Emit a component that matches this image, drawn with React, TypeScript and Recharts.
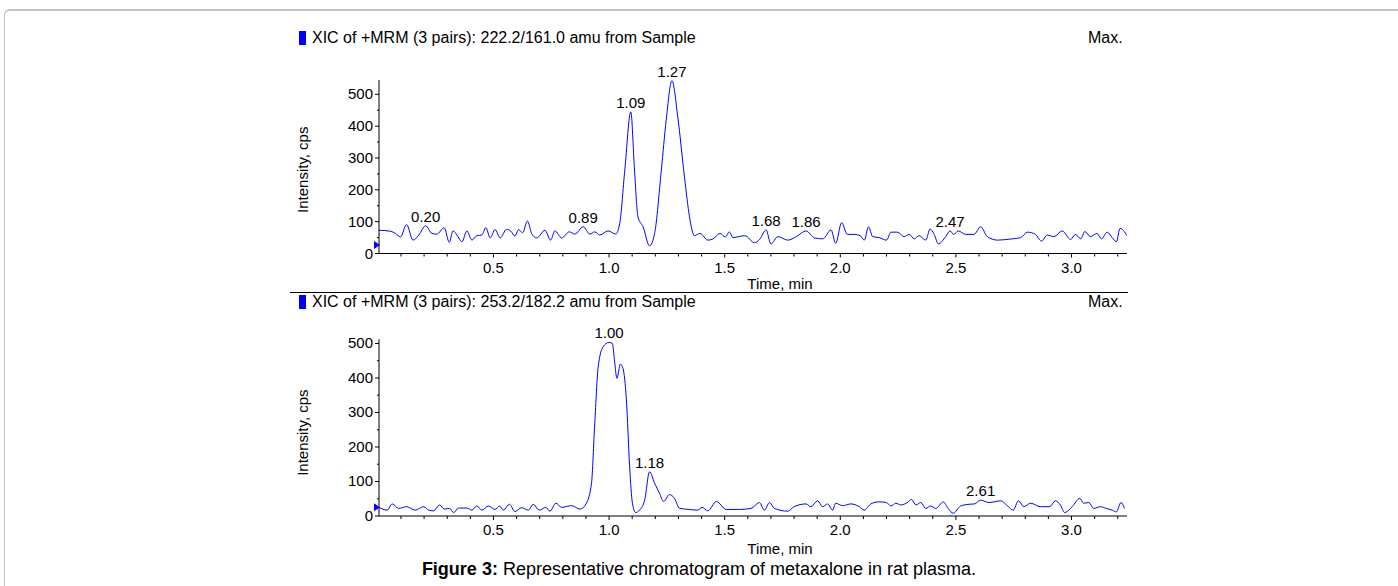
import React from "react";
import { LineChart, Line, XAxis, YAxis, ReferenceDot } from "recharts";

// XIC 222.2/161.0 (top trace)
const topTime = [
  0.005, 0.055, 0.076, 0.098, 0.124, 0.152, 0.177, 0.207, 0.234, 0.255, 0.287, 0.309, 0.325, 0.342, 0.364, 0.385,
  0.407, 0.428, 0.45, 0.467, 0.486, 0.507, 0.529, 0.557, 0.575, 0.593, 0.608, 0.626, 0.647, 0.665, 0.687, 0.723,
  0.747, 0.766, 0.795, 0.828, 0.852, 0.888, 0.917, 0.938, 0.96, 0.996, 1.029, 1.046, 1.068, 1.094, 1.11, 1.125,
  1.147, 1.175, 1.197, 1.226, 1.247, 1.272, 1.297, 1.326, 1.348, 1.369, 1.394, 1.427, 1.448, 1.48, 1.503, 1.52,
  1.536, 1.587, 1.629, 1.652, 1.679, 1.7, 1.73, 1.773, 1.81, 1.852, 1.888, 1.924, 1.96, 1.98, 2.006, 2.03,
  2.06, 2.086, 2.104, 2.122, 2.14, 2.168, 2.2, 2.219, 2.247, 2.276, 2.298, 2.32, 2.34, 2.37, 2.388, 2.406,
  2.424, 2.456, 2.475, 2.49, 2.51, 2.542, 2.578, 2.607, 2.636, 2.68, 2.73, 2.78, 2.81, 2.844, 2.87, 2.895,
  2.924, 2.96, 2.996, 3.017, 3.04, 3.058, 3.082, 3.11, 3.13, 3.154, 3.176, 3.194, 3.21, 3.24,
];
const topIntensity = [
  73, 70, 63, 52, 91, 42, 58, 87, 63, 61, 81, 35, 71, 58, 37, 71,
  42, 56, 58, 81, 49, 75, 49, 76, 70, 55, 75, 65, 102, 63, 49, 73,
  42, 71, 49, 68, 61, 84, 61, 68, 58, 71, 61, 94, 262, 445, 262, 115,
  84, 24, 63, 262, 419, 543, 430, 241, 115, 56, 63, 42, 45, 63, 52, 68,
  50, 56, 34, 45, 74, 30, 53, 42, 53, 71, 49, 46, 74, 32, 97, 60,
  60, 56, 42, 84, 53, 50, 42, 67, 67, 53, 60, 46, 56, 42, 77, 60,
  30, 53, 71, 60, 71, 60, 60, 84, 53, 42, 45, 50, 67, 60, 39, 58,
  53, 71, 44, 60, 46, 69, 53, 63, 46, 67, 50, 37, 79, 56,
];

// XIC 253.2/182.2 (bottom trace)
const bottomTime = [
  0.005, 0.04, 0.062, 0.09, 0.124, 0.162, 0.198, 0.22, 0.241, 0.267, 0.287, 0.31, 0.328, 0.349, 0.385, 0.407,
  0.428, 0.45, 0.478, 0.507, 0.526, 0.543, 0.569, 0.593, 0.622, 0.651, 0.672, 0.698, 0.726, 0.744, 0.77, 0.795,
  0.838, 0.874, 0.902, 0.924, 0.938, 0.953, 0.974, 1.0, 1.014, 1.024, 1.034, 1.049, 1.06, 1.075, 1.089, 1.101,
  1.115, 1.132, 1.154, 1.175, 1.197, 1.218, 1.236, 1.261, 1.283, 1.305, 1.348, 1.384, 1.402, 1.427, 1.464, 1.507,
  1.564, 1.614, 1.65, 1.672, 1.694, 1.715, 1.773, 1.8, 1.852, 1.873, 1.902, 1.924, 1.945, 1.967, 1.98, 2.01,
  2.046, 2.082, 2.104, 2.132, 2.168, 2.2, 2.219, 2.24, 2.262, 2.29, 2.308, 2.327, 2.348, 2.37, 2.39, 2.413,
  2.446, 2.466, 2.489, 2.52, 2.557, 2.58, 2.607, 2.643, 2.694, 2.722, 2.748, 2.77, 2.794, 2.823, 2.866, 2.906,
  2.93, 2.952, 2.97, 3.003, 3.036, 3.053, 3.075, 3.096, 3.125, 3.15, 3.176, 3.194, 3.214, 3.229,
];
const bottomIntensity = [
  25, 17, 35, 22, 27, 17, 27, 17, 15, 32, 20, 22, 10, 23, 23, 17,
  29, 17, 29, 19, 29, 17, 34, 13, 24, 17, 34, 17, 25, 14, 37, 25,
  30, 20, 37, 95, 268, 432, 490, 503, 500, 447, 399, 440, 428, 336, 143, 37,
  10, 17, 46, 128, 95, 66, 42, 62, 51, 22, 19, 17, 25, 15, 42, 19,
  19, 22, 39, 17, 39, 22, 14, 27, 35, 27, 44, 27, 35, 17, 37, 30,
  35, 27, 17, 35, 41, 39, 29, 37, 32, 39, 48, 32, 39, 22, 29, 22,
  41, 22, 8, 29, 34, 35, 46, 39, 44, 30, 17, 44, 27, 37, 27, 27,
  44, 32, 10, 27, 51, 37, 39, 22, 27, 22, 17, 12, 39, 22,
];

// peak labels
const topPeakTime = [0.207, 0.888, 1.094, 1.272, 1.679, 1.852, 2.475];
const topPeakValue = [87, 84, 445, 543, 74, 71, 71];
const topPeakText = ["0.20", "0.89", "1.09", "1.27", "1.68", "1.86", "2.47"];
const bottomPeakTime = [1.0, 1.175, 2.607];
const bottomPeakValue = [503, 128, 46];
const bottomPeakText = ["1.00", "1.18", "2.61"];

const timeTicks = [
  0.1, 0.2, 0.3, 0.4, 0.5, 0.6, 0.7, 0.8, 0.9, 1.0, 1.1, 1.2, 1.3, 1.4, 1.5, 1.6,
  1.7, 1.8, 1.9, 2.0, 2.1, 2.2, 2.3, 2.4, 2.5, 2.6, 2.7, 2.8, 2.9, 3.0, 3.1, 3.2,
];
const intensityTicks = [0, 50, 100, 150, 200, 250, 300, 350, 400, 450, 500];

const topTitle = "XIC of +MRM (3 pairs): 222.2/161.0 amu from Sample";
const bottomTitle = "XIC of +MRM (3 pairs): 253.2/182.2 amu from Sample";

const FONT = "'Liberation Sans', Arial, sans-serif";
const BLUE = "#0000ff";

const topData = topTime.map((t, i) => ({ t, v: topIntensity[i] }));
const bottomData = bottomTime.map((t, i) => ({ t, v: bottomIntensity[i] }));

const XTick = (props: any) => {
  const { x, y, payload } = props;
  const v = payload.value;
  const major = Math.abs(v * 2 - Math.round(v * 2)) < 1e-6;
  return (
    <g>
      <line x1={x} x2={x} y1={y} y2={y + (major ? 4 : 3)} stroke="#000" />
      {major && (
        <text x={x} y={y + 19} textAnchor="middle" fontSize={15} fontFamily={FONT} fill="#000">
          {v.toFixed(1)}
        </text>
      )}
    </g>
  );
};

const YTick = (props: any) => {
  const { x, y, payload } = props;
  const v = payload.value;
  const major = v % 100 === 0;
  return (
    <g>
      <line x1={x - (major ? 4 : 2)} x2={x} y1={y} y2={y} stroke="#000" />
      {major && (
        <text x={x - 6} y={y + 5} textAnchor="end" fontSize={15} fontFamily={FONT} fill="#000">
          {v}
        </text>
      )}
    </g>
  );
};

const marker = (p: any) => (
  <polygon points={`${p.cx - 5},${p.cy - 4} ${p.cx + 1},${p.cy} ${p.cx - 5},${p.cy + 4}`} fill={BLUE} />
);

function Trace({
  data,
  yMax,
  marginTop,
  marginBottom,
  peaksT,
  peaksV,
  peaksText,
  markerValue,
  yTitleShift,
  xTitleShift,
}: any) {
  return (
    <LineChart
      width={1398}
      height={300}
      data={data}
      margin={{ top: marginTop, right: 271, bottom: marginBottom, left: 289 }}
    >
      <XAxis
        dataKey="t"
        type="number"
        domain={[0.005, 3.24]}
        allowDataOverflow
        ticks={timeTicks}
        interval={0}
        tick={<XTick />}
        tickLine={false}
        tickSize={0}
        tickMargin={0}
        height={30}
        axisLine={{ stroke: "#000" }}
        label={(p: any) => (
          <text
            x={p.viewBox.x + p.viewBox.width / 2 + 27}
            y={p.viewBox.y + xTitleShift}
            textAnchor="middle"
            fontSize={15}
            fontFamily={FONT}
            fill="#000"
          >
            Time, min
          </text>
        )}
      />
      <YAxis
        type="number"
        domain={[0, yMax]}
        allowDataOverflow
        ticks={intensityTicks}
        interval={0}
        tick={<YTick />}
        tickLine={false}
        tickSize={0}
        tickMargin={0}
        width={90}
        axisLine={{ stroke: "#000" }}
        label={(p: any) => {
          const x = p.viewBox.x + 19;
          const y = p.viewBox.y + p.viewBox.height / 2 + yTitleShift;
          return (
            <text
              x={x}
              y={y}
              transform={`rotate(-90, ${x}, ${y})`}
              textAnchor="middle"
              fontSize={15}
              fontFamily={FONT}
              fill="#000"
            >
              Intensity, cps
            </text>
          );
        }}
      />
      <Line
        type="monotone"
        dataKey="v"
        stroke={BLUE}
        strokeWidth={1}
        dot={false}
        isAnimationActive={false}
      />
      {peaksT.map((t: number, i: number) => (
        <ReferenceDot
          key={peaksText[i]}
          x={t}
          y={peaksV[i]}
          r={0}
          ifOverflow="visible"
          label={{ value: peaksText[i], position: "top", offset: 4, fontSize: 15, fill: "#000", fontFamily: FONT }}
        />
      ))}
      <ReferenceDot x={0.005} y={markerValue} r={4} ifOverflow="visible" shape={marker} />
    </LineChart>
  );
}

function Header({ top, text }: { top: number; text: string }) {
  return (
    <>
      <div style={{ position: "absolute", left: 299, top: top - 7, width: 7, height: 14, background: BLUE }} />
      <div
        style={{
          position: "absolute",
          left: 312,
          top: top - 10,
          fontSize: 16,
          lineHeight: "19px",
          whiteSpace: "nowrap",
          color: "#000",
        }}
      >
        {text}
      </div>
      <div style={{ position: "absolute", left: 1088, top: top - 10, fontSize: 16, lineHeight: "19px", color: "#000" }}>
        Max.
      </div>
    </>
  );
}

export default function App() {
  return (
    <div
      style={{
        position: "absolute",
        left: 0,
        top: 0,
        width: 1398,
        height: 586,
        overflow: "hidden",
        background: "#fff",
        fontFamily: FONT,
      }}
    >
      <div
        style={{
          position: "absolute",
          left: 4,
          top: 9,
          width: 1500,
          height: 700,
          borderTop: "2px solid #c4c4c4",
          borderLeft: "1px solid #c4c4c4",
          borderTopLeftRadius: 6,
        }}
      />
      <Header top={38} text={topTitle} />
      <div style={{ position: "absolute", left: 290, top: 292, width: 838, height: 1, background: "#000" }} />
      <Header top={302} text={bottomTitle} />

      <div style={{ position: "absolute", left: 0, top: 0 }}>
        <Trace
          data={topData}
          yMax={545}
          marginTop={80}
          marginBottom={16.5}
          peaksT={topPeakTime}
          peaksV={topPeakValue}
          peaksText={topPeakText}
          markerValue={27}
          yTitleShift={3}
          xTitleShift={35}
        />
      </div>
      <div style={{ position: "absolute", left: 0, top: 260 }}>
        <Trace
          data={bottomData}
          yMax={512}
          marginTop={79.3}
          marginBottom={14}
          peaksT={bottomPeakTime}
          peaksV={bottomPeakValue}
          peaksText={bottomPeakText}
          markerValue={25}
          yTitleShift={5}
          xTitleShift={38}
        />
      </div>

      <div
        style={{
          position: "absolute",
          left: 0,
          width: 1398,
          top: 559,
          textAlign: "center",
          fontSize: 18,
          lineHeight: "21px",
          color: "#000",
        }}
      >
        <b>Figure 3:</b> Representative chromatogram of metaxalone in rat plasma.
      </div>
    </div>
  );
}
